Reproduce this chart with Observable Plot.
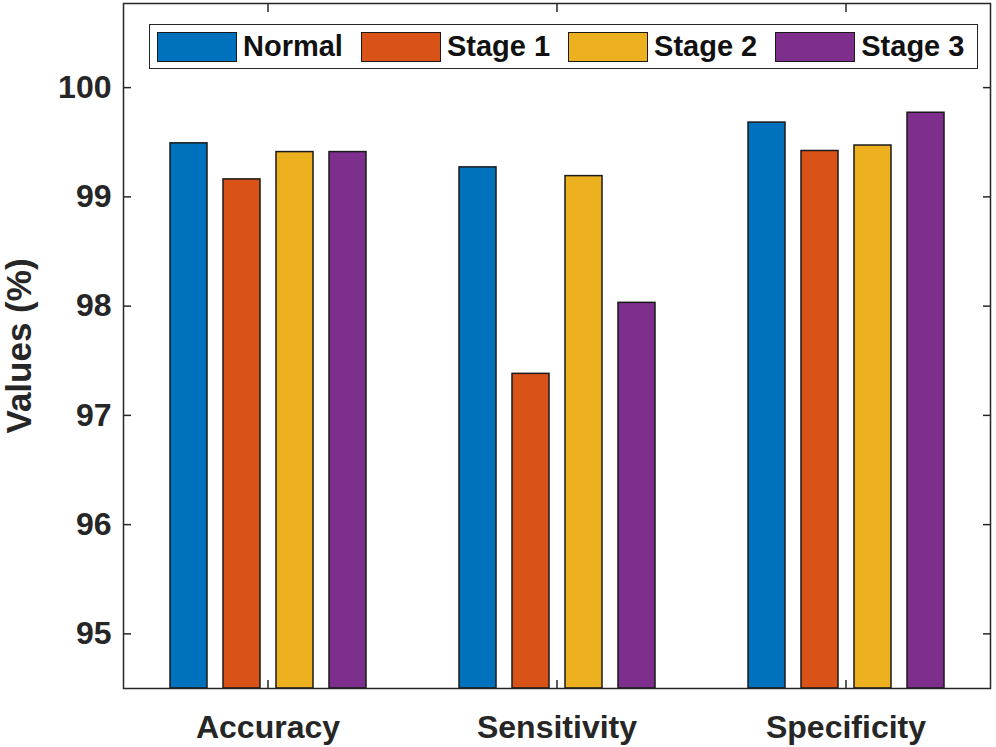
<!DOCTYPE html>
<html>
<head>
<meta charset="utf-8">
<script src="https://cdn.jsdelivr.net/npm/d3@7"></script>
<script src="https://cdn.jsdelivr.net/npm/@observablehq/plot@0.6"></script>
<style>
  html, body { margin: 0; padding: 0; background: #fff; }
  #wrap { position: relative; width: 996px; height: 747px; font-family: "Liberation Sans", Arial, sans-serif; }
  #legend { position: absolute; left: 149px; top: 24px; width: 820px; height: 43px; border: 1.5px solid #262626; background: #fff;
    display: flex; align-items: center; padding-left: 7px; box-sizing: content-box; white-space: nowrap; }
  .item { display: flex; align-items: center; margin-right: 18px; flex-shrink: 0; }
  .sw { width: 78px; height: 28px; border: 1.5px solid #1a1a1a; flex-shrink: 0; }
  .lab { margin-left: 6px; font-size: 29px; font-weight: bold; color: #111; white-space: nowrap; }
</style>
</head>
<body>
<div id="wrap"></div>
<script>
const categories = ["Accuracy", "Sensitivity", "Specificity"];
const series = ["Normal", "Stage 1", "Stage 2", "Stage 3"];
const colors = ["#0072BD", "#D95319", "#EDB120", "#7E2F8E"];
const normal = [99.49, 99.27, 99.68];
const stage1 = [99.16, 97.38, 99.42];
const stage2 = [99.41, 99.19, 99.47];
const stage3 = [99.41, 98.03, 99.77];
const yTicks = [95, 96, 97, 98, 99, 100];
const yDomain = [94.5, 100.77];
const yLabel = "Values (%)";

const values = [normal, stage1, stage2, stage3];
const data = [];
categories.forEach((c, i) => series.forEach((s, j) => data.push({category: c, series: s, value: values[j][i]})));

const ink = "#262626";
const chart = Plot.plot({
  width: 996,
  height: 747,
  marginLeft: 122,
  marginRight: 5,
  marginTop: 3,
  marginBottom: 59,
  style: {fontFamily: "'Liberation Sans', Arial, sans-serif", fontWeight: "bold", color: ink, background: "#fff"},
  fx: {domain: categories, padding: 0, label: null},
  x: {domain: series, paddingInner: 0.306, paddingOuter: 0.868, axis: null},
  y: {domain: yDomain, axis: null},
  color: {domain: series, range: colors},
  marks: [
    Plot.barY(data, {fx: "category", x: "series", y1: () => yDomain[0], y2: "value", fill: "series", stroke: "#1a1a1a", strokeWidth: 1.5}),
    Plot.frame({facet: "super", stroke: ink, strokeWidth: 1.5}),
    Plot.axisY(yTicks, {anchor: "left", tickSize: -8, tickPadding: 20, tickFormat: d3.format("d"), fontSize: 32, stroke: ink, strokeWidth: 1.5, fill: ink, label: null}),
    Plot.axisY(yTicks, {anchor: "right", tickSize: -8, tickFormat: () => "", stroke: ink, strokeWidth: 1.5, label: null}),
    Plot.axisFx({anchor: "bottom", tickSize: -8, tickPadding: 35, fontSize: 32, stroke: ink, strokeWidth: 1.5, fill: ink, label: null}),
    Plot.axisFx({anchor: "top", tickSize: -8, tickFormat: () => "", stroke: ink, strokeWidth: 1.5, label: null}),
    Plot.text([yLabel], {fx: () => categories[0], y: () => (yDomain[0] + yDomain[1]) / 2, text: d => d,
      frameAnchor: "left", textAnchor: "middle", lineAnchor: "middle", dx: -104, rotate: -90, fontSize: 35, fontWeight: "bold", fill: ink})
  ]
});
const wrap = document.getElementById("wrap");
wrap.appendChild(chart);

const legend = document.createElement("div");
legend.id = "legend";
series.forEach((s, j) => {
  const it = document.createElement("div");
  it.className = "item";
  const sw = document.createElement("div");
  sw.className = "sw";
  sw.style.background = chart.scale("color").apply(s);
  const lab = document.createElement("span");
  lab.className = "lab";
  lab.textContent = s;
  it.appendChild(sw); it.appendChild(lab);
  legend.appendChild(it);
});
wrap.appendChild(legend);
</script>
</body>
</html>
